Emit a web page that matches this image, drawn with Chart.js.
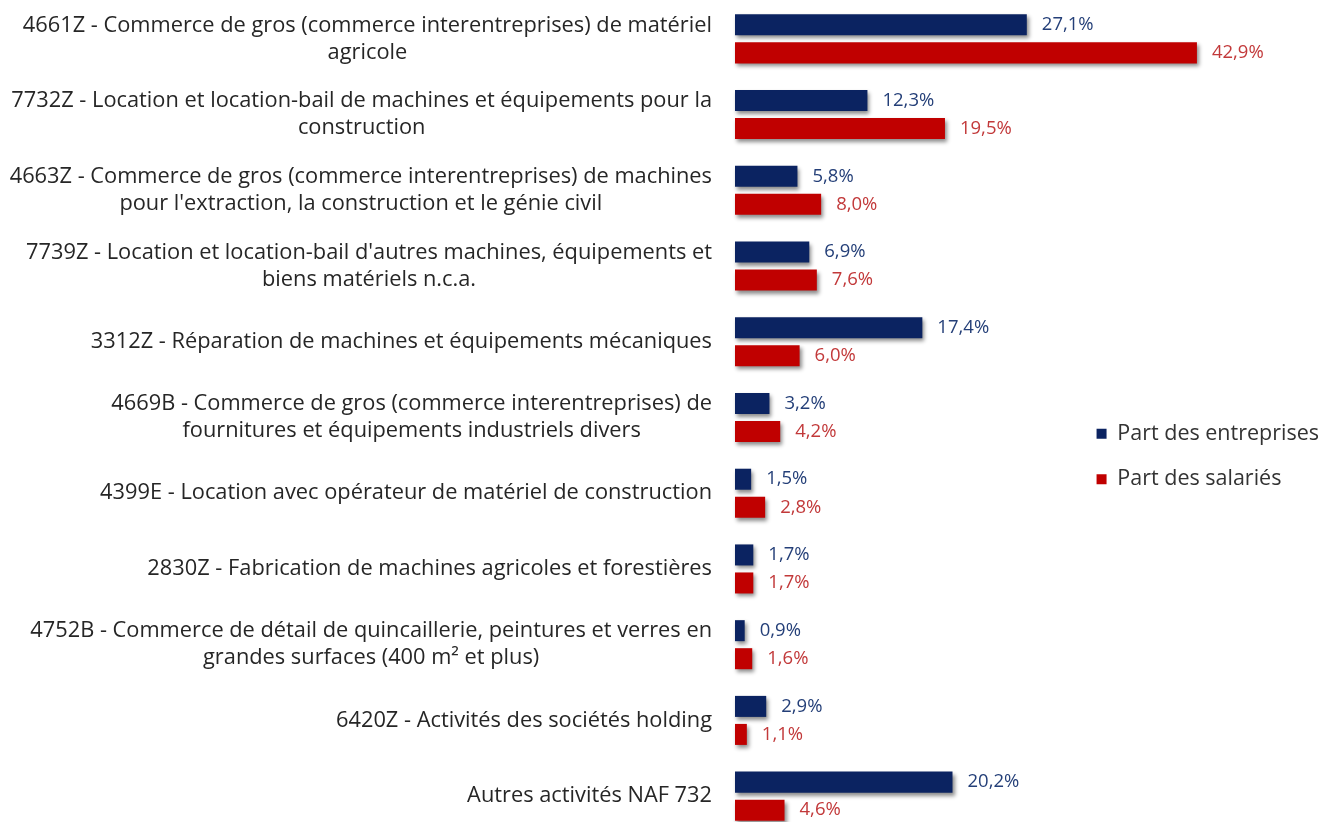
<!DOCTYPE html>
<html>
<head>
<meta charset="utf-8">
<script src="https://cdn.jsdelivr.net/npm/chart.js@4"></script>
<style>
  html, body { margin: 0; padding: 0; background: #fff; overflow: hidden; }
  #wrap { width: 1329px; height: 840px; }
</style>
</head>
<body>
<div id="wrap"><canvas id="nafChart"></canvas></div>
<script>
const categories = [
  ["4661Z - Commerce de gros (commerce interentreprises) de matériel", "agricole"],
  ["7732Z - Location et location-bail de machines et équipements pour la", "construction"],
  ["4663Z - Commerce de gros (commerce interentreprises) de machines", "pour l'extraction, la construction et le génie civil"],
  ["7739Z - Location et location-bail d'autres machines, équipements et", "biens matériels n.c.a."],
  ["3312Z - Réparation de machines et équipements mécaniques"],
  ["4669B - Commerce de gros (commerce interentreprises) de", "fournitures et équipements industriels divers"],
  ["4399E - Location avec opérateur de matériel de construction"],
  ["2830Z - Fabrication de machines agricoles et forestières"],
  ["4752B - Commerce de détail de quincaillerie, peintures et verres en", "grandes surfaces (400 m² et plus)"],
  ["6420Z - Activités des sociétés holding"],
  ["Autres activités NAF 732"]
];
const partEntreprises = [27.1, 12.3, 5.8, 6.9, 17.4, 3.2, 1.5, 1.7, 0.9, 2.9, 20.2];
const partSalaries = [42.9, 19.5, 8.0, 7.6, 6.0, 4.2, 2.8, 1.7, 1.6, 1.1, 4.6];

const FONT = "'Open Sans', Lato, sans-serif";
const labelColors = ["#243f78", "#c2393a"];

function fmt(v) {
  return v.toFixed(1).replace(".", ",") + "%";
}

// bar drop shadow
const shadowPlugin = {
  id: "barShadow",
  beforeDatasetsDraw(chart) {
    const ctx = chart.ctx;
    ctx.save();
    ctx.shadowColor = "rgba(0,0,0,0.45)";
    ctx.shadowOffsetX = 2;
    ctx.shadowOffsetY = 3;
    ctx.shadowBlur = 4;
  },
  afterDatasetsDraw(chart) {
    chart.ctx.restore();
  }
};

// value labels at bar ends
const valueLabels = {
  id: "valueLabels",
  afterDatasetsDraw(chart) {
    const ctx = chart.ctx;
    ctx.save();
    ctx.font = "18.5px " + FONT;
    ctx.textBaseline = "middle";
    ctx.textAlign = "left";
    chart.data.datasets.forEach((ds, di) => {
      const meta = chart.getDatasetMeta(di);
      ctx.fillStyle = labelColors[di];
      meta.data.forEach((bar, i) => {
        ctx.fillText(fmt(ds.data[i]), bar.x + 15, bar.y);
      });
    });
    ctx.restore();
  }
};

// category labels: block right-aligned, lines centred inside block
const categoryLabels = {
  id: "categoryLabels",
  afterDraw(chart) {
    const ctx = chart.ctx;
    const y = chart.scales.y;
    const right = 712;
    const lh = 27;
    ctx.save();
    ctx.font = "21.8px " + FONT;
    ctx.fillStyle = "#262626";
    ctx.textBaseline = "middle";
    ctx.textAlign = "center";
    categories.forEach((lines, i) => {
      const yc = y.getPixelForTick(i);
      const w = Math.max(...lines.map(l => ctx.measureText(l).width));
      const cx = right - w / 2;
      const y0 = yc - (lines.length - 1) * lh / 2;
      lines.forEach((l, k) => ctx.fillText(l, cx, y0 + k * lh));
    });
    ctx.restore();
  }
};

new Chart(document.getElementById("nafChart"), {
  type: "bar",
  data: {
    labels: categories,
    datasets: [
      {
        label: "Part des entreprises",
        data: partEntreprises,
        backgroundColor: "#0b2361",
        categoryPercentage: 0.74,
        barPercentage: 0.75,
        clip: false
      },
      {
        label: "Part des salariés",
        data: partSalaries,
        backgroundColor: "#c00000",
        categoryPercentage: 0.74,
        barPercentage: 0.75,
        clip: false
      }
    ]
  },
  options: {
    indexAxis: "y",
    responsive: true,
    maintainAspectRatio: false,
    animation: false,
    layout: { padding: { left: 735, top: 1, bottom: 6, right: 0 } },
    scales: {
      x: { display: false, min: 0, max: 31.35 },
      y: { display: false }
    },
    plugins: {
      tooltip: { enabled: false },
      legend: {
        position: "right",
        align: "center",
        title: { display: true, text: " ", padding: { top: 66, bottom: 0 }, font: { size: 10 } },
        labels: {
          boxWidth: 10,
          boxHeight: 10,
          padding: 24,
          color: "#333",
          font: { family: FONT, size: 21.5 }
        }
      }
    }
  },
  plugins: [shadowPlugin, valueLabels, categoryLabels]
});
</script>
</body>
</html>
